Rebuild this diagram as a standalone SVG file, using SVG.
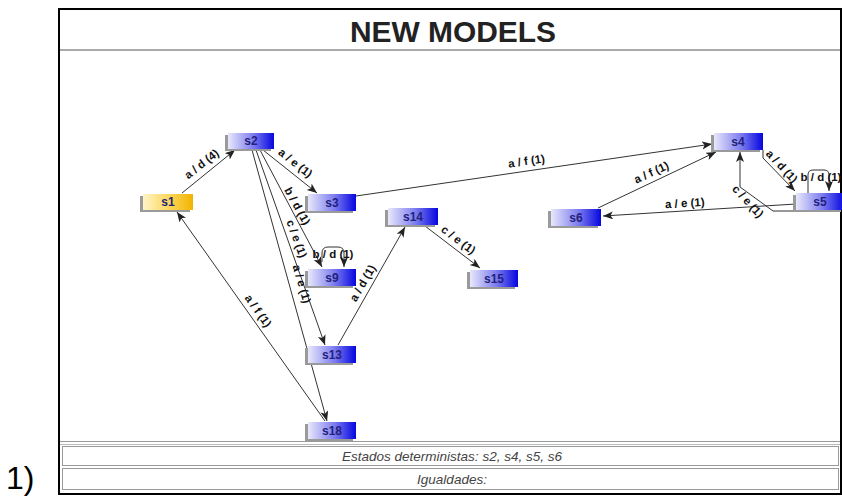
<svg xmlns="http://www.w3.org/2000/svg" width="842" height="496" viewBox="0 0 842 496">
<style>
.lbl{font-family:"Liberation Sans",Arial,sans-serif;font-size:11.5px;font-weight:bold;fill:#111;text-anchor:middle}
.nt{font-family:"Liberation Sans",Arial,sans-serif;font-size:12px;font-weight:bold;fill:#22227a;text-anchor:middle}
.edge{fill:none;stroke:#333;stroke-width:1}
.shadow{fill:#9a9a9a}
.box{fill:url(#blue)}
.info{font-family:"Liberation Sans",Arial,sans-serif;font-size:13.5px;font-style:italic;fill:#444;text-anchor:middle}
</style>
<defs>
<linearGradient id="blue" x1="0" y1="0" x2="1" y2="0">
<stop offset="0" stop-color="#e8e8fb"/>
<stop offset="0.55" stop-color="#7c7cf0"/>
<stop offset="1" stop-color="#0606e0"/>
</linearGradient>
<linearGradient id="yellow" x1="0" y1="0" x2="1" y2="0">
<stop offset="0" stop-color="#fff4c8"/>
<stop offset="0.5" stop-color="#fbd860"/>
<stop offset="1" stop-color="#f2b400"/>
</linearGradient>
<marker id="arr" markerUnits="userSpaceOnUse" markerWidth="11" markerHeight="9" refX="10" refY="4" orient="auto">
<path d="M0,0 L10,4 L0,8 L2.5,4 z" fill="#222"/>
</marker>
</defs>
<rect width="842" height="496" fill="#fff"/>
<text x="6" y="489" font-family="Liberation Sans,Arial,sans-serif" font-size="32" fill="#000">1)</text>
<g id="frame">
<rect x="59" y="9" width="782" height="485" fill="#fff" stroke="#000" stroke-width="2"/>
<line x1="60" y1="50" x2="840" y2="50" stroke="#aaa" stroke-width="2"/>
<text x="453" y="42" font-family="Liberation Sans,Arial,sans-serif" font-size="30" font-weight="bold" fill="#222" text-anchor="middle" textLength="206" lengthAdjust="spacingAndGlyphs">NEW MODELS</text>
<line x1="60" y1="441.5" x2="840" y2="441.5" stroke="#999" stroke-width="1"/>
<line x1="60" y1="444.5" x2="840" y2="444.5" stroke="#bbb" stroke-width="1"/>
<rect x="62.5" y="446.5" width="776" height="19" fill="#fff" stroke="#999" stroke-width="1"/>
<rect x="62.5" y="468.5" width="776" height="21" fill="#fff" stroke="#999" stroke-width="1"/>
<text class="info" x="452" y="461">Estados deterministas: s2, s4, s5, s6</text>
<text class="info" x="452" y="484">Igualdades:</text>
</g>
<g id="connectors">
<path class="edge" d="M182,193 L235,150" marker-end="url(#arr)"/>
<path class="edge" d="M263,150 L317,193" marker-end="url(#arr)"/>
<path class="edge" d="M260,150 L322,267" marker-end="url(#arr)"/>
<path class="edge" d="M256,150 L325,345" marker-end="url(#arr)"/>
<path class="edge" d="M252,150 L327,421" marker-end="url(#arr)"/>
<path class="edge" d="M325,421 L177,212" marker-end="url(#arr)"/>
<path class="edge" d="M338,345 L405,227" marker-end="url(#arr)"/>
<path class="edge" d="M425,226 L480,268" marker-end="url(#arr)"/>
<path class="edge" d="M356,196 L712,144" marker-end="url(#arr)"/>
<path class="edge" d="M598,208 L716,152" marker-end="url(#arr)"/>
<path class="edge" d="M796,204 L603,216" marker-end="url(#arr)"/>
<path class="edge" d="M763,150 L763,158 L795,191" marker-end="url(#arr)"/>
<path class="edge" d="M796,211 L773,211 L740,187 L740,152" marker-end="url(#arr)"/>
<path class="edge" d="M322,262 L322,253 Q322,247 328,247 L338,247 Q344,247 344,253 L344,267" marker-end="url(#arr)"/>
<path class="edge" d="M808,193 L808,175 Q808,170 813,170 L824,170 Q829,170 829,175 L829,191" marker-end="url(#arr)"/>
<text class="lbl" transform="translate(204,167) rotate(-38)">a / d (4)</text>
<text class="lbl" transform="translate(293,166) rotate(38)">a / e (1)</text>
<text class="lbl" transform="translate(294,208) rotate(61)">b / d (1)</text>
<text class="lbl" transform="translate(293,240) rotate(70)">c / e (1)</text>
<text class="lbl" transform="translate(298,285) rotate(74)">a / e (1)</text>
<text class="lbl" transform="translate(255,313) rotate(54.6)">a / f (1)</text>
<text class="lbl" transform="translate(366,285) rotate(-60)">a / d (1)</text>
<text class="lbl" transform="translate(456,243) rotate(37)">c / e (1)</text>
<text class="lbl" transform="translate(527,165) rotate(-8.3)">a / f (1)</text>
<text class="lbl" transform="translate(653,176) rotate(-25)">a / f (1)</text>
<text class="lbl" transform="translate(685,207) rotate(-3.6)">a / e (1)</text>
<text class="lbl" transform="translate(779,169) rotate(47)">a / d (1)</text>
<text class="lbl" transform="translate(745,204) rotate(47)">c / e (1)</text>
<text class="lbl" x="333" y="258">b / d (1)</text>
<text class="lbl" x="821" y="181">b / d (1)</text>
</g>
<g id="s1"><rect class="shadow" x="140" y="196" width="50" height="16"/><rect x="143" y="194" width="50" height="16" fill="url(#yellow)"/><text class="nt" x="168" y="206" fill="#333">s1</text></g>
<g id="s2"><rect class="shadow" x="225" y="135" width="46" height="16"/><rect class="box" x="228" y="133" width="46" height="16"/><text class="nt" x="251" y="145">s2</text></g>
<g id="s3"><rect class="shadow" x="305" y="196" width="48" height="17"/><rect class="box" x="308" y="194" width="48" height="17"/><text class="nt" x="332" y="207">s3</text></g>
<g id="s9"><rect class="shadow" x="305" y="271" width="48" height="17"/><rect class="box" x="308" y="269" width="48" height="17"/><text class="nt" x="332" y="282">s9</text></g>
<g id="s13"><rect class="shadow" x="305" y="348" width="48" height="17"/><rect class="box" x="308" y="346" width="48" height="17"/><text class="nt" x="332" y="359">s13</text></g>
<g id="s18"><rect class="shadow" x="305" y="424" width="48" height="17"/><rect class="box" x="308" y="422" width="48" height="17"/><text class="nt" x="332" y="435">s18</text></g>
<g id="s14"><rect class="shadow" x="385" y="210" width="50" height="17"/><rect class="box" x="388" y="208" width="50" height="17"/><text class="nt" x="413" y="221">s14</text></g>
<g id="s15"><rect class="shadow" x="467" y="272" width="48" height="17"/><rect class="box" x="470" y="270" width="48" height="17"/><text class="nt" x="494" y="283">s15</text></g>
<g id="s6"><rect class="shadow" x="548" y="211" width="50" height="17"/><rect class="box" x="551" y="209" width="50" height="17"/><text class="nt" x="576" y="222">s6</text></g>
<g id="s4"><rect class="shadow" x="711" y="135" width="49" height="17"/><rect class="box" x="714" y="133" width="49" height="17"/><text class="nt" x="738" y="146">s4</text></g>
<g id="s5"><rect class="shadow" x="793" y="195" width="48" height="17"/><rect class="box" x="796" y="193" width="48" height="17"/><text class="nt" x="820" y="206">s5</text></g>
</svg>
